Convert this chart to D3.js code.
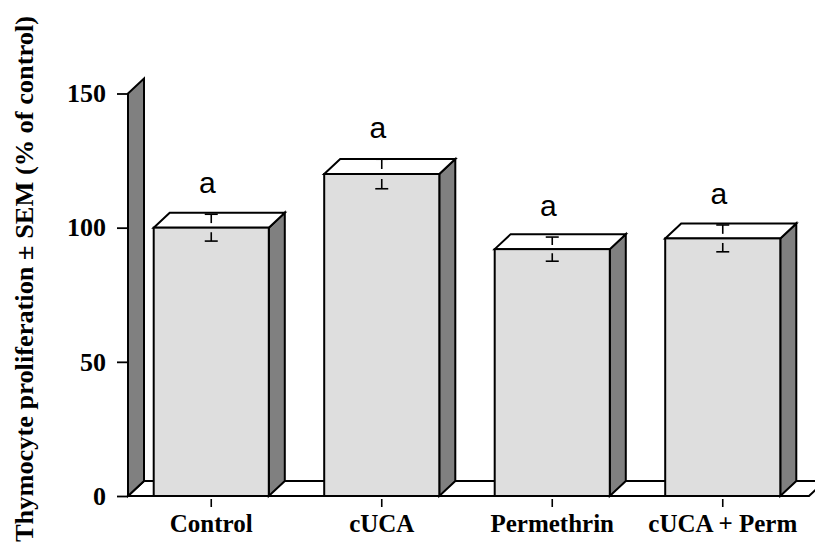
<!DOCTYPE html>
<html>
<head>
<meta charset="utf-8">
<script src="https://cdn.jsdelivr.net/npm/d3@7"></script>
<style>
  html, body { margin: 0; padding: 0; background: #fff; }
  svg { display: block; }
</style>
</head>
<body>
<svg id="chart" width="815" height="554"></svg>
<script>
// Thymocyte proliferation by treatment, % of control, mean ± SEM
const categories = ["Control", "cUCA", "Permethrin", "cUCA + Perm"];
const means = [100, 120, 92, 96];
const sems = [5, 5.5, 4.5, 5];
const letters = ["a", "a", "a", "a"];
const yTicks = [0, 50, 100, 150];

const svg = d3.select("#chart");

// 3D depth offset for the box effect
const DX = 16, DY = -15;

const y = d3.scaleLinear().domain([0, 150]).range([496, 93.5]);
const x = d3.scaleBand()
  .domain(categories)
  .range([126, 808])
  .paddingInner(0.325)
  .paddingOuter(0.1625);

const wallX = 128;
const floorRight = 809;
const y0 = y(0);

const stroke = "#000";
const sw = 2;
const pts = arr => arr.map(p => p.join(",")).join(" ");

// floor
svg.append("polygon")
  .attr("points", pts([
    [wallX, y0], [floorRight, y0],
    [floorRight + DX, y0 + DY], [wallX + DX, y0 + DY]
  ]))
  .attr("fill", "#fff")
  .attr("stroke", stroke)
  .attr("stroke-width", sw);

// left wall
svg.append("polygon")
  .attr("points", pts([
    [wallX, y(150)], [wallX + DX, y(150) + DY],
    [wallX + DX, y0 + DY], [wallX, y0]
  ]))
  .attr("fill", "#808080")
  .attr("stroke", stroke)
  .attr("stroke-width", sw);

// bars as boxes: side, top, front
const bars = svg.append("g").selectAll("g.bar")
  .data(categories.map((c, i) => ({ c, v: means[i], e: sems[i], l: letters[i] })))
  .join("g").attr("class", "bar");

bars.append("polygon")
  .attr("points", d => {
    const x1 = x(d.c) + x.bandwidth(), yt = y(d.v);
    return pts([[x1, yt], [x1 + DX, yt + DY], [x1 + DX, y0 + DY], [x1, y0]]);
  })
  .attr("fill", "#808080")
  .attr("stroke", stroke)
  .attr("stroke-width", sw);

bars.append("polygon")
  .attr("points", d => {
    const x0 = x(d.c), x1 = x0 + x.bandwidth(), yt = y(d.v);
    return pts([[x0, yt], [x0 + DX, yt + DY], [x1 + DX, yt + DY], [x1, yt]]);
  })
  .attr("fill", "#fff")
  .attr("stroke", stroke)
  .attr("stroke-width", sw);

bars.append("rect")
  .attr("x", d => x(d.c))
  .attr("y", d => y(d.v))
  .attr("width", x.bandwidth())
  .attr("height", d => y0 - y(d.v))
  .attr("fill", "#dedede")
  .attr("stroke", stroke)
  .attr("stroke-width", sw);

// error bars: capped stubs reaching from each limit toward the mean
const cx = d => x(d.c) + x.bandwidth() / 2;
const capW = 6.5;
const stub = 0.66;
const ebStyle = sel => sel.attr("stroke", stroke).attr("stroke-width", 1.6);

bars.append("line")
  .attr("x1", cx).attr("x2", cx)
  .attr("y1", d => y(d.v + d.e))
  .attr("y2", d => y(d.v + d.e) + stub * (y(d.v) - y(d.v + d.e)))
  .call(ebStyle);
bars.append("line")
  .attr("x1", cx).attr("x2", cx)
  .attr("y1", d => y(d.v - d.e))
  .attr("y2", d => y(d.v - d.e) - stub * (y(d.v - d.e) - y(d.v)))
  .call(ebStyle);
bars.append("line")
  .attr("x1", d => cx(d) - capW).attr("x2", d => cx(d) + capW)
  .attr("y1", d => y(d.v + d.e)).attr("y2", d => y(d.v + d.e))
  .call(ebStyle);
bars.append("line")
  .attr("x1", d => cx(d) - capW).attr("x2", d => cx(d) + capW)
  .attr("y1", d => y(d.v - d.e)).attr("y2", d => y(d.v - d.e))
  .call(ebStyle);

// significance letters
bars.append("text")
  .attr("x", d => cx(d) - 4)
  .attr("y", d => y(d.v + d.e) - 21)
  .attr("text-anchor", "middle")
  .attr("font-family", "'Liberation Sans', Arial, sans-serif")
  .attr("font-size", 30)
  .attr("fill", "#000")
  .text(d => d.l);

// y axis
const yAxis = d3.axisLeft(y).tickValues(yTicks).tickSize(10).tickPadding(11).tickFormat(d3.format("d"));
const gy = svg.append("g").attr("transform", `translate(${wallX - 1},0)`).call(yAxis);
gy.select(".domain").remove();
gy.selectAll(".tick line").attr("stroke", stroke).attr("stroke-width", 1.8);
gy.selectAll(".tick text")
  .attr("font-family", "'Liberation Serif', 'Times New Roman', serif")
  .attr("font-weight", "bold")
  .attr("font-size", 26)
  .attr("fill", "#000");

// x axis
const xAxis = d3.axisBottom(x).tickSize(8).tickPadding(0);
const gx = svg.append("g").attr("transform", `translate(0,${y0 + 3})`).call(xAxis);
gx.select(".domain").remove();
gx.selectAll(".tick line").attr("stroke", stroke).attr("stroke-width", 1.6);
gx.selectAll(".tick text")
  .attr("y", 33).attr("dy", 0)
  .attr("font-family", "'Liberation Serif', 'Times New Roman', serif")
  .attr("font-weight", "bold")
  .attr("font-size", 25)
  .attr("fill", "#000");

// y axis title
svg.append("text")
  .attr("transform", "translate(33,279) rotate(-90)")
  .attr("text-anchor", "middle")
  .attr("font-family", "'Liberation Serif', 'Times New Roman', serif")
  .attr("font-weight", "bold")
  .attr("font-size", 26)
  .attr("textLength", 526)
  .attr("lengthAdjust", "spacingAndGlyphs")
  .attr("fill", "#000")
  .text("Thymocyte proliferation ± SEM (% of control)");
</script>
</body>
</html>
